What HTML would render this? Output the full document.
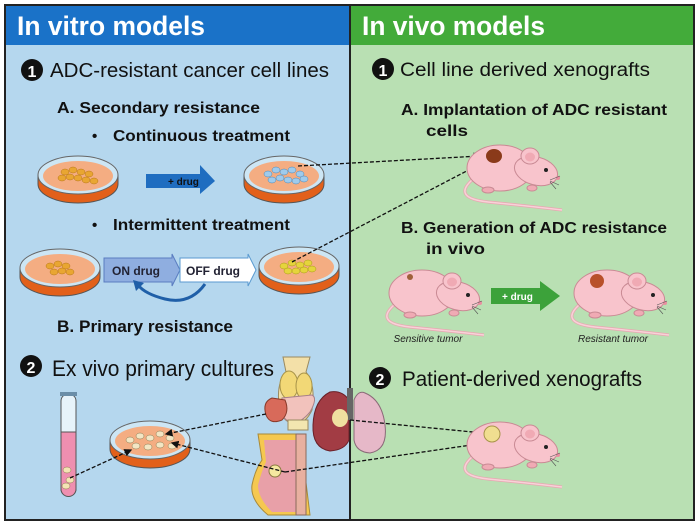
<!DOCTYPE html>
<html><head><meta charset="utf-8"><style>
html,body{margin:0;padding:0;background:#fff}
svg{display:block}
text{font-family:"Liberation Sans",Arial,sans-serif}
</style></head><body>
<svg width="699" height="525" viewBox="0 0 699 525" xmlns="http://www.w3.org/2000/svg">
<defs>
<marker id="ah" markerWidth="6" markerHeight="6" refX="5" refY="3" orient="auto"><path d="M0,0 L6,3 L0,6 z" fill="#111"/></marker>
<g id="dish">
 <ellipse cx="0" cy="9" rx="40" ry="19" fill="#e2601a" stroke="#555" stroke-width="1"/>
 <rect x="-40" y="0" width="80" height="9" fill="#e2601a"/>
 <line x1="-40" y1="0" x2="-40" y2="9" stroke="#555"/><line x1="40" y1="0" x2="40" y2="9" stroke="#555"/>
 <ellipse cx="0" cy="0" rx="40" ry="19" fill="#cde6f4" stroke="#666" stroke-width="1"/>
 <ellipse cx="0" cy="1" rx="35" ry="15" fill="#f4ad82"/>
</g>
<g id="mouse">
 <path d="M14,40 Q-6,58 30,62 Q70,66 104,70" fill="none" stroke="#e9a6b2" stroke-width="3"/>
 <path d="M14,40 Q-6,58 30,62 Q70,66 104,70" fill="none" stroke="#f8d2d8" stroke-width="1.5"/>
 <ellipse cx="42" cy="28" rx="33" ry="23" fill="#f8c4cc" stroke="#c98a94"/>
 <ellipse cx="78" cy="31" rx="22" ry="14" fill="#f8c4cc" stroke="#c98a94" transform="rotate(15 78 31)"/>
 <ellipse cx="72" cy="16" rx="9" ry="8" fill="#f8c4cc" stroke="#c98a94"/>
 <ellipse cx="72" cy="17" rx="5" ry="4.5" fill="#f0aab4"/>
 <circle cx="88" cy="30" r="2" fill="#222"/>
 <circle cx="100" cy="38" r="2" fill="#e98fa0"/>
 <path d="M92,40 l10,-4 M92,41 l9,4 M92,42 l6,7" stroke="#555" stroke-width=".6"/>
 <ellipse cx="74" cy="48" rx="5" ry="3" fill="#f0aab4" stroke="#c98a94"/>
 <ellipse cx="30" cy="50" rx="6" ry="3" fill="#f0aab4" stroke="#c98a94"/>
</g>
</defs>
<rect x="0" y="0" width="699" height="525" fill="#fff"/>
<rect x="5" y="5" width="345" height="515" fill="#b5d7ee" stroke="#222" stroke-width="2"/>
<rect x="350" y="5" width="344" height="515" fill="#b9e0b3" stroke="#222" stroke-width="2"/>
<rect x="6" y="6" width="343" height="39" fill="#1a72c8"/>
<rect x="351" y="6" width="342" height="39" fill="#43ab3a"/>
<text x="17" y="35" font-size="27" font-weight="bold" fill="#fff" textLength="188" lengthAdjust="spacingAndGlyphs">In vitro models</text>
<text x="362" y="35" font-size="27" font-weight="bold" fill="#fff" textLength="183" lengthAdjust="spacingAndGlyphs">In vivo models</text>

<circle cx="32" cy="70" r="11" fill="#111"/><text x="32" y="77" font-size="16" font-weight="bold" fill="#fff" text-anchor="middle">1</text>
<text x="50" y="77" font-size="20" fill="#111" textLength="279" lengthAdjust="spacingAndGlyphs">ADC-resistant cancer cell lines</text>
<text x="57" y="113" font-size="16" font-weight="bold" fill="#111" textLength="203" lengthAdjust="spacingAndGlyphs">A.  Secondary resistance</text>
<text x="92" y="141" font-size="15" font-weight="bold" fill="#111">•</text>
<text x="113" y="141" font-size="16" font-weight="bold" fill="#111" textLength="177" lengthAdjust="spacingAndGlyphs">Continuous treatment</text>
<text x="92" y="230" font-size="15" font-weight="bold" fill="#111">•</text>
<text x="113" y="230" font-size="16" font-weight="bold" fill="#111" textLength="177" lengthAdjust="spacingAndGlyphs">Intermittent treatment</text>

<use href="#dish" x="78" y="175"/>
<g fill="#e9a632" stroke="#b8761a" stroke-width=".5">
<ellipse cx="65" cy="172" rx="4" ry="3"/><ellipse cx="73" cy="170" rx="4" ry="3"/><ellipse cx="81" cy="172" rx="4" ry="3"/><ellipse cx="89" cy="174" rx="4" ry="3"/><ellipse cx="70" cy="177" rx="4" ry="3"/><ellipse cx="78" cy="178" rx="4" ry="3"/><ellipse cx="86" cy="180" rx="4" ry="3"/><ellipse cx="94" cy="181" rx="4" ry="3"/><ellipse cx="62" cy="178" rx="4" ry="3"/>
</g>
<path d="M146,174 H200 V165 L215,181 L200,194 V188 H146 z" fill="#1f6dc0"/>
<text x="168" y="185" font-size="10" font-weight="bold" fill="#111">+ drug</text>
<use href="#dish" x="284" y="175"/>
<g fill="#9fcbec" stroke="#4e88b6" stroke-width=".5">
<ellipse cx="268" cy="174" rx="4" ry="3"/><ellipse cx="276" cy="170" rx="4" ry="3"/><ellipse cx="284" cy="172" rx="4" ry="3"/><ellipse cx="292" cy="170" rx="4" ry="3"/><ellipse cx="300" cy="174" rx="4" ry="3"/><ellipse cx="272" cy="180" rx="4" ry="3"/><ellipse cx="280" cy="178" rx="4" ry="3"/><ellipse cx="288" cy="180" rx="4" ry="3"/><ellipse cx="296" cy="181" rx="4" ry="3"/><ellipse cx="304" cy="179" rx="4" ry="3"/>
</g>

<use href="#dish" x="60" y="268"/>
<g fill="#e9a632" stroke="#b8761a" stroke-width=".5">
<ellipse cx="50" cy="266" rx="4" ry="3"/><ellipse cx="58" cy="264" rx="4" ry="3"/><ellipse cx="66" cy="266" rx="4" ry="3"/><ellipse cx="54" cy="272" rx="4" ry="3"/><ellipse cx="62" cy="271" rx="4" ry="3"/><ellipse cx="70" cy="272" rx="4" ry="3"/>
</g>
<path d="M104,258 H172 V254 L180,270 L172,286 V282 H104 z" fill="#8faee0" stroke="#5a7cc0"/>
<text x="112" y="275" font-size="12" font-weight="bold" fill="#223">ON drug</text>
<path d="M180,258 H248 V254 L256,270 L248,286 V282 H180 z" fill="#fff" stroke="#5a9ad0"/>
<text x="186" y="275" font-size="12" font-weight="bold" fill="#223">OFF drug</text>
<path d="M205,284 Q190,305 165,299 Q145,294 138,285" fill="none" stroke="#1f5fa8" stroke-width="3"/>
<path d="M133,280 L144,283 L136,291 z" fill="#1f5fa8"/>
<use href="#dish" x="299" y="266"/>
<g fill="#e5d43c" stroke="#a89a1a" stroke-width=".5">
<ellipse cx="284" cy="266" rx="4" ry="3"/><ellipse cx="292" cy="263" rx="4" ry="3"/><ellipse cx="300" cy="265" rx="4" ry="3"/><ellipse cx="308" cy="263" rx="4" ry="3"/><ellipse cx="288" cy="271" rx="4" ry="3"/><ellipse cx="296" cy="271" rx="4" ry="3"/><ellipse cx="304" cy="270" rx="4" ry="3"/><ellipse cx="312" cy="269" rx="4" ry="3"/>
</g>

<text x="57" y="332" font-size="17" font-weight="bold" fill="#111" textLength="176" lengthAdjust="spacingAndGlyphs">B. Primary resistance</text>
<circle cx="31" cy="366" r="11" fill="#111"/><text x="31" y="373" font-size="16" font-weight="bold" fill="#fff" text-anchor="middle">2</text>
<text x="52" y="376" font-size="22" fill="#111" textLength="222" lengthAdjust="spacingAndGlyphs">Ex vivo primary cultures</text>

<rect x="61" y="394" width="15" height="102" rx="7" fill="#e7f3fa" stroke="#555"/>
<path d="M61,432 H76 V489 a7.5,7.5 0 0 1 -15,0 z" fill="#ef8fb0" stroke="#555"/>
<rect x="60" y="392" width="17" height="4" fill="#6b8ea8"/>
<g fill="#f4e4b4" stroke="#8a7a50" stroke-width=".5"><ellipse cx="67" cy="470" rx="4" ry="3"/><ellipse cx="70" cy="480" rx="4" ry="3"/><ellipse cx="66" cy="486" rx="4" ry="3"/></g>

<use href="#dish" x="150" y="440"/>
<g fill="#f3e6c4" stroke="#8a7a50" stroke-width=".5">
<ellipse cx="130" cy="440" rx="4" ry="3"/><ellipse cx="140" cy="436" rx="4" ry="3"/><ellipse cx="150" cy="438" rx="4" ry="3"/><ellipse cx="160" cy="434" rx="4" ry="3"/><ellipse cx="170" cy="438" rx="4" ry="3"/><ellipse cx="136" cy="446" rx="4" ry="3"/><ellipse cx="148" cy="447" rx="4" ry="3"/><ellipse cx="160" cy="445" rx="4" ry="3"/><ellipse cx="172" cy="446" rx="4" ry="3"/>
</g>

<!-- organs -->
<path d="M283,357 H310 L306,372 Q316,385 312,410 Q305,425 295,422 Q285,425 280,410 Q275,385 286,372 z" fill="#f3e0a8" stroke="#9a8a60"/>
<ellipse cx="289" cy="385" rx="9" ry="14" fill="#f2d876" stroke="#a8944a"/>
<ellipse cx="304" cy="386" rx="8" ry="13" fill="#f2d876" stroke="#a8944a"/>
<path d="M282,398 Q278,420 292,422 Q300,424 310,412 Q318,398 312,395 z" fill="#f2c2bc" stroke="#a8808a"/>
<path d="M272,398 Q262,402 266,415 Q270,425 282,420 Q290,412 285,400 z" fill="#d86a5a" stroke="#8a3a2a"/>
<rect x="288" y="420" width="20" height="10" fill="#f3e6b0" stroke="#9a8a60"/>
<path d="M330,392 Q314,400 313,425 Q312,448 330,451 Q345,450 349,440 V400 Q342,390 330,392 z" fill="#a23c44" stroke="#6a2028"/>
<path d="M365,393 Q382,400 385,425 Q388,450 370,453 Q356,452 354,440 V400 Q358,390 365,393 z" fill="#e6b8c8" stroke="#8a6a78"/>
<rect x="347" y="388" width="6" height="32" fill="#666"/>
<ellipse cx="340" cy="418" rx="8" ry="9" fill="#f0e0a0"/>
<path d="M258,434 H300 L310,515 H268 Q250,500 252,485 Q255,470 262,460 z" fill="#f5c850" stroke="#a88a3a"/>
<path d="M264,440 H298 L305,512 H272 Q258,498 258,485 Q262,470 266,462 z" fill="#e8a0a8"/>
<rect x="296" y="434" width="10" height="81" fill="#e8b0a0" stroke="#8a6a5a"/>
<circle cx="275" cy="471" r="6" fill="#f5e8a0" stroke="#8a7a40"/>

<!-- dashed connectors -->
<g fill="none" stroke="#111" stroke-width="1.3" stroke-dasharray="4,2">
<line x1="298" y1="166" x2="480" y2="156" marker-end="url(#ah)"/>
<line x1="292" y1="262" x2="482" y2="163" marker-end="url(#ah)"/>
<line x1="70" y1="478" x2="131" y2="450" marker-end="url(#ah)"/>
<line x1="266" y1="414" x2="166" y2="434" marker-end="url(#ah)"/>
<line x1="285" y1="472" x2="172" y2="443" marker-end="url(#ah)"/>
<line x1="350" y1="420" x2="483" y2="433" marker-end="url(#ah)"/>
<line x1="285" y1="472" x2="485" y2="443" marker-end="url(#ah)"/>
</g>

<!-- right side -->
<circle cx="383" cy="69" r="11" fill="#111"/><text x="383" y="76" font-size="16" font-weight="bold" fill="#fff" text-anchor="middle">1</text>
<text x="400" y="76" font-size="19" fill="#111" textLength="250" lengthAdjust="spacingAndGlyphs">Cell line derived xenografts</text>
<text x="401" y="115" font-size="16" font-weight="bold" fill="#111" textLength="266" lengthAdjust="spacingAndGlyphs">A.  Implantation of ADC resistant</text>
<text x="426" y="136" font-size="16" font-weight="bold" fill="#111" textLength="42" lengthAdjust="spacingAndGlyphs">cells</text>
<use href="#mouse" x="458" y="140"/>
<ellipse cx="494" cy="156" rx="8" ry="7" fill="#8a3a1a"/>
<text x="401" y="233" font-size="16" font-weight="bold" fill="#111" textLength="266" lengthAdjust="spacingAndGlyphs">B.  Generation of ADC resistance</text>
<text x="426" y="254" font-size="16" font-weight="bold" fill="#111" textLength="59" lengthAdjust="spacingAndGlyphs">in vivo</text>
<use href="#mouse" x="380" y="265"/>
<circle cx="410" cy="277" r="3" fill="#a0603a"/>
<path d="M491,288 H540 V281 L560,296 L540,311 V304 H491 z" fill="#3ca23a"/>
<text x="502" y="300" font-size="10" font-weight="bold" fill="#fff">+ drug</text>
<use href="#mouse" x="565" y="265"/>
<ellipse cx="597" cy="281" rx="7" ry="7" fill="#b8502a"/>
<text x="428" y="342" font-size="10" font-style="italic" fill="#222" text-anchor="middle">Sensitive tumor</text>
<text x="613" y="342" font-size="10" font-style="italic" fill="#222" text-anchor="middle">Resistant tumor</text>
<circle cx="380" cy="378" r="11" fill="#111"/><text x="380" y="385" font-size="16" font-weight="bold" fill="#fff" text-anchor="middle">2</text>
<text x="402" y="386" font-size="21" fill="#111" textLength="240" lengthAdjust="spacingAndGlyphs">Patient-derived xenografts</text>
<use href="#mouse" x="458" y="417"/>
<circle cx="492" cy="434" r="8" fill="#f0de90" stroke="#a8944a"/>
</svg>
</body></html>
